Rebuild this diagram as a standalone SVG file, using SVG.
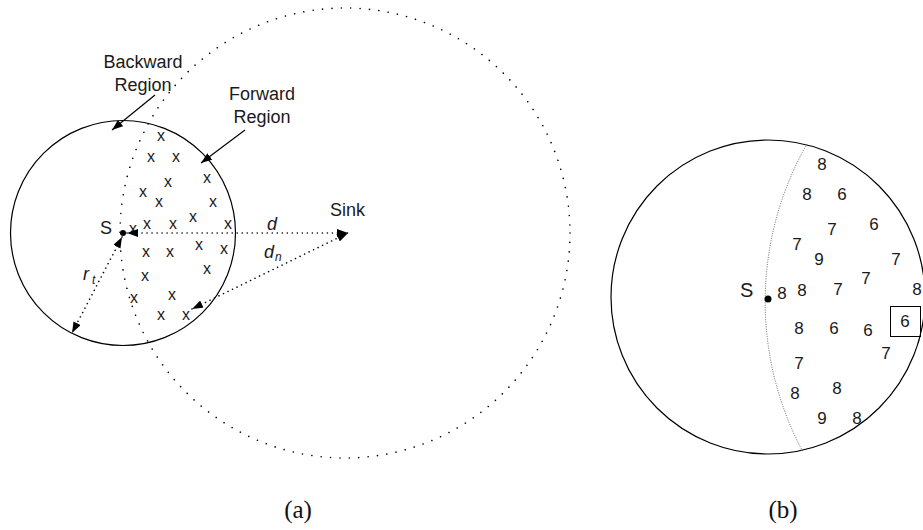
<svg xmlns="http://www.w3.org/2000/svg" width="923" height="530" viewBox="0 0 923 530">
<style>
.t{font-family:"Liberation Sans",Arial,sans-serif;fill:#1a1a1a}
.lbl{font-size:18px}
.x{font-size:16px;text-anchor:middle}
.n{font-size:17px;text-anchor:middle}
.it{font-style:italic}
.cap{font-family:"Liberation Serif","Times New Roman",serif;font-size:25px;text-anchor:middle;fill:#111}
.solid{fill:none;stroke:#000;stroke-width:1.2}
.bigdot{fill:none;stroke:#000;stroke-width:1.6;stroke-linecap:round;stroke-dasharray:0.01 9.42}
.adot{fill:none;stroke:#000;stroke-width:1.6;stroke-linecap:round;stroke-dasharray:0.01 5}
.fine{fill:none;stroke:#555;stroke-width:0.9;stroke-dasharray:1 1.4}
</style>
<defs>
<marker id="ah" markerUnits="userSpaceOnUse" viewBox="0 0 11 8" refX="11" refY="4" markerWidth="11" markerHeight="8" orient="auto-start-reverse">
<path d="M0,0 L11,4 L0,8 z" fill="#000"/>
</marker>
</defs>

<g id="diagram-a">
<g id="tx-circle"><circle cx="123" cy="233" r="112.5" class="solid"/></g>
<g id="sink-range"><circle cx="345" cy="233" r="225" class="bigdot"/></g>
<g id="node-S"><circle cx="123" cy="233" r="3" fill="#000"/><text class="t lbl" x="100" y="234">S</text></g>
<g id="node-sink"><text class="t lbl" x="330" y="216">Sink</text></g>
<g id="label-backward"><text class="t lbl" x="143" y="68" text-anchor="middle">Backward</text><text class="t lbl" x="143" y="91" text-anchor="middle">Region</text></g>
<g id="label-forward"><text class="t lbl" x="262" y="100" text-anchor="middle">Forward</text><text class="t lbl" x="262" y="123" text-anchor="middle">Region</text></g>
<g id="nodes-x" class="t x">
<text class="x" x="161" y="141">x</text>
<text class="x" x="151" y="162">x</text>
<text class="x" x="176" y="162">x</text>
<text class="x" x="207" y="183">x</text>
<text class="x" x="168" y="187">x</text>
<text class="x" x="143" y="197">x</text>
<text class="x" x="159" y="207">x</text>
<text class="x" x="213" y="207">x</text>
<text class="x" x="133" y="234">x</text>
<text class="x" x="147" y="229">x</text>
<text class="x" x="173" y="229">x</text>
<text class="x" x="193" y="222">x</text>
<text class="x" x="228" y="229">x</text>
<text class="x" x="146" y="257">x</text>
<text class="x" x="170" y="257">x</text>
<text class="x" x="199" y="250">x</text>
<text class="x" x="224" y="254">x</text>
<text class="x" x="207" y="274">x</text>
<text class="x" x="145" y="281">x</text>
<text class="x" x="172" y="300">x</text>
<text class="x" x="134" y="303">x</text>
<text class="x" x="161" y="320">x</text>
<text class="x" x="186" y="320">x</text>
</g>
<g id="labels-math" class="t">
<text class="lbl it" x="267" y="230">d</text>
<text class="lbl it" x="264" y="258">d</text><text class="it" x="275" y="261" font-size="12">n</text>
<text class="lbl it" x="83" y="280">r</text><text class="it" x="92" y="284" font-size="12">t</text>
</g>
<g id="connectors-a">
<path class="adot" d="M127,233 L348,233" marker-start="url(#ah)" marker-end="url(#ah)"/>
<path class="adot" d="M192,309 L348,233" marker-start="url(#ah)" marker-end="url(#ah)"/>
<path class="adot" d="M122,237 L72,333" marker-start="url(#ah)" marker-end="url(#ah)"/>
<path class="solid" stroke-width="1" d="M155,95 L112,130" marker-end="url(#ah)"/>
<path class="solid" stroke-width="1" d="M245,130 L201,163" marker-end="url(#ah)"/>
</g>
<text class="cap" x="298" y="518">(a)</text>
</g>

<g id="diagram-b">
<g id="range-b"><circle cx="768" cy="297" r="157" class="solid"/></g>
<g id="boundary-b"><path class="fine" d="M807,144 A318,318 0 0 0 803,452"/></g>
<g id="node-S-b"><circle cx="768" cy="299" r="3.5" fill="#000"/><text class="t" x="740" y="297" font-size="20">S</text></g>
<g id="nodes-num" class="t n">
<text class="n" x="822" y="170">8</text>
<text class="n" x="807" y="200">8</text>
<text class="n" x="842" y="200">6</text>
<text class="n" x="832" y="235">7</text>
<text class="n" x="874" y="230">6</text>
<text class="n" x="797" y="250">7</text>
<text class="n" x="819" y="265">9</text>
<text class="n" x="896" y="265">7</text>
<text class="n" x="866" y="284">7</text>
<text class="n" x="782" y="299">8</text>
<text class="n" x="802" y="296">8</text>
<text class="n" x="838" y="295">7</text>
<text class="n" x="917" y="295">8</text>
<text class="n" x="799" y="334">8</text>
<text class="n" x="834" y="334">6</text>
<text class="n" x="868" y="336">6</text>
<text class="n" x="886" y="359">7</text>
<text class="n" x="799" y="369">7</text>
<text class="n" x="795" y="399">8</text>
<text class="n" x="837" y="394">8</text>
<text class="n" x="822" y="424">9</text>
<text class="n" x="857" y="424">8</text>
</g>
<g id="node-best"><rect x="890.5" y="306.5" width="30" height="30" fill="none" stroke="#000" stroke-width="1"/><text class="t n" x="905" y="327">6</text></g>
<text class="cap" x="783" y="518">(b)</text>
</g>
</svg>
